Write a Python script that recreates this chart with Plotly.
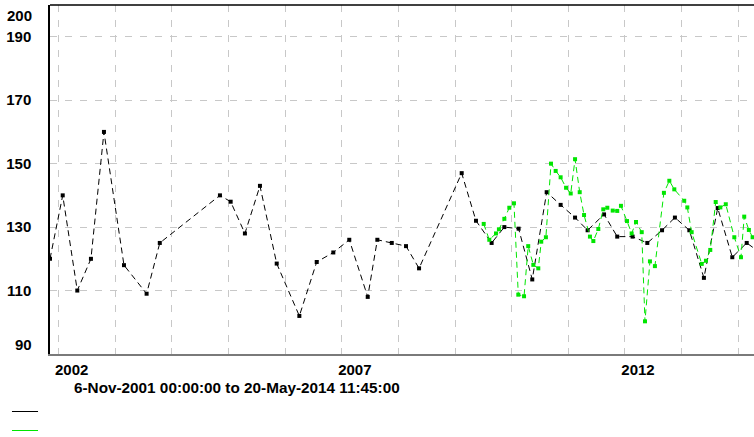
import plotly.graph_objects as go

# Quarterly series (black)
q_dates = [
    "2001-11-06", "2002-01-27", "2002-05-01", "2002-07-28", "2002-10-20",
    "2003-02-26", "2003-07-22", "2003-10-15", "2004-11-06", "2005-01-14",
    "2005-04-16", "2005-07-22", "2005-11-07", "2006-04-02", "2006-07-23",
    "2006-11-07", "2007-02-18", "2007-06-17", "2007-08-18", "2007-11-19",
    "2008-02-19", "2008-05-13", "2009-02-12", "2009-05-15", "2009-08-24",
    "2009-11-14", "2010-02-14", "2010-05-13", "2010-08-14", "2010-11-12",
    "2011-02-13", "2011-05-05", "2011-08-19", "2011-11-12", "2012-02-19",
    "2012-05-24", "2012-08-27", "2012-11-18", "2013-02-19", "2013-05-24",
    "2013-08-21", "2013-11-23", "2014-02-24", "2014-05-20",
]
q_values = [
    120, 140, 110, 120, 160,
    118, 109, 125, 140, 138,
    128, 143, 118.5, 102, 119,
    122, 126, 108, 126, 125,
    124, 117, 147, 132, 125,
    130, 129.5, 113.5, 141, 137,
    133, 129, 134, 127, 127,
    125, 129, 133, 129, 114,
    136, 120.5, 125, 122,
]

# Monthly series (green)
m_dates = [
    "2009-07-04", "2009-08-09", "2009-09-21", "2009-10-10", "2009-11-14",
    "2009-12-16", "2010-01-15", "2010-02-12", "2010-03-21", "2010-04-17",
    "2010-05-20", "2010-06-21", "2010-07-10", "2010-08-09", "2010-09-11",
    "2010-10-11", "2010-11-12", "2010-12-17", "2011-01-16", "2011-02-13",
    "2011-03-15", "2011-04-12", "2011-05-20", "2011-06-11", "2011-07-13",
    "2011-08-14", "2011-09-09", "2011-10-14", "2011-11-12", "2011-12-06",
    "2012-01-14", "2012-02-13", "2012-03-12", "2012-04-18", "2012-05-09",
    "2012-06-10", "2012-07-12", "2012-09-08", "2012-10-13", "2012-11-14",
    "2013-01-17", "2013-02-06", "2013-03-06", "2013-05-10", "2013-06-06",
    "2013-07-04", "2013-08-08", "2013-09-07", "2013-10-12", "2013-12-06",
    "2014-01-18", "2014-02-08", "2014-03-10", "2014-04-03",
]
m_values = [
    131, 126, 128, 129.3, 132.6,
    136.1, 137.5, 108.7, 108.2, 124,
    118.1, 117, 125.4, 126.8, 150,
    147.7, 145.7, 142.4, 140.6, 151.4,
    141, 133.8, 127, 125.6, 129.4,
    135.6, 136.1, 135.2, 135.1, 136.7,
    131.9, 128, 131.6, 128.4, 100.3,
    119.2, 117.7, 140.8, 144.6, 141.9,
    138.3, 136.2, 128.4, 118.4, 119.4,
    122.8, 137.9, 136.2, 137.2, 126.8,
    120.5, 133.3, 129.1, 126.8,
]

# Axis ticks
year_ticks = [f"{y}-01-01" for y in range(2002, 2015)]
year_labels = ["2002", "", "", "", "", "2007", "", "", "", "", "2012", "", ""]
y_ticks = [110, 130, 150, 170, 190]
y_end_labels = [(93, "90"), (196.8, "200")]
range_text = "6-Nov-2001 00:00:00 to 20-May-2014 11:45:00"

BLACK = "#000000"
GREEN = "#00e600"
GRID = "#c8c8c8"
FONT = dict(family="Liberation Sans, Arial, sans-serif", size=15, color="#000000", weight="bold")
CAPTION_FONT = dict(FONT, size=15.3)

fig = go.Figure()
fig.add_trace(go.Scatter(
    x=q_dates, y=q_values, mode="lines+markers",
    line=dict(color=BLACK, width=1, dash="6px,4px"),
    marker=dict(symbol="square", size=4, color=BLACK),
    showlegend=False, cliponaxis=True,
))
fig.add_trace(go.Scatter(
    x=m_dates, y=m_values, mode="lines+markers",
    line=dict(color=GREEN, width=1, dash="6px,4px"),
    marker=dict(symbol="square", size=4, color=GREEN),
    showlegend=False, cliponaxis=True,
))

fig.update_layout(
    width=754, height=437,
    margin=dict(l=50, r=0, t=5, b=83),
    paper_bgcolor="white", plot_bgcolor="white",
    font=FONT,
    showlegend=False,
)

fig.update_xaxes(
    type="date", range=["2001-11-06", "2014-04-12"],
    tickvals=year_ticks, ticktext=year_labels,
    tickfont=FONT, ticklabelshift=13, ticklabelstandoff=1,
    ticks="inside", ticklen=6, tickcolor=GRID, tickwidth=1,
    showgrid=True, gridcolor=GRID, griddash="7px,8px", gridwidth=1,
    showline=True, linecolor="#7a7a7a", linewidth=1.5,
    zeroline=False,
)
fig.update_yaxes(
    range=[90, 200],
    tickvals=y_ticks, ticktext=[str(v) for v in y_ticks],
    tickfont=FONT, ticks="", ticklabelstandoff=14,
    showgrid=True, gridcolor=GRID, griddash="7px,8px", gridwidth=1,
    showline=True, linecolor=BLACK, linewidth=1.5,
    zeroline=False,
)

# End-of-axis labels, pulled inside the range
for val, txt in y_end_labels:
    fig.add_annotation(
        x=0, xref="paper", y=val, yref="y", text=txt, showarrow=False,
        xanchor="right", yanchor="middle", xshift=-16, font=FONT,
    )

# Time span caption
fig.add_annotation(
    x=0.031, xref="paper", y=-0.0974, yref="paper", text=range_text,
    showarrow=False, xanchor="left", yanchor="middle", font=CAPTION_FONT,
)

# Top frame line
fig.add_shape(type="line", xref="paper", yref="paper", x0=0, x1=1, y0=1, y1=1,
              line=dict(color=BLACK, width=1.5))

# Legend keys
for ypos, col in [(-0.16476, BLACK), (-0.2192, GREEN)]:
    fig.add_shape(type="line", xref="paper", yref="paper",
                  x0=-0.054, x1=-0.017, y0=ypos, y1=ypos,
                  line=dict(color=col, width=1))

fig.write_html("out.html")
